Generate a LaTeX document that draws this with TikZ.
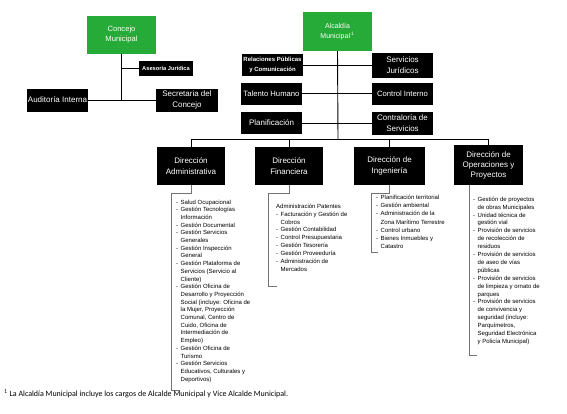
\documentclass[tikz,border=0pt]{standalone}
\usepackage{fontspec}
\setmainfont{Liberation Sans}
\newfontfamily\fnfont{Carlito}
\definecolor{grn}{RGB}{38,170,56}
\tikzset{
  blk/.style={fill=black, text=white, inner sep=0pt, align=center},
  grnbox/.style={fill=grn, text=white, inner sep=0pt, align=center},
  con/.style={line width=0.9pt},
  brk/.style={line width=0.5pt, draw=black!55},
  lst/.style={anchor=north west, inner sep=0pt},
}
\newcommand\lsfont{\fontsize{6}{7.7}\selectfont}
\begin{document}
\begin{tikzpicture}[x=1pt,y=-1pt]
\useasboundingbox[fill=white] (0,0) rectangle (567,413);
% Concejo
\node[grnbox, minimum width=69pt, minimum height=38pt, font=\fontsize{7.6}{10}\selectfont] (conc) at (121.5,35) {Concejo\\Municipal};
\node[blk, minimum width=54pt, minimum height=15pt, font=\bfseries\fontsize{5.7}{7}\selectfont] (ases) at (166,68.5) {Asesoría Jurídica};
\node[blk, minimum width=61pt, minimum height=23pt, font=\fontsize{8}{10}\selectfont] (audi) at (57.5,100) {Auditoría Interna};
\node[blk, minimum width=62pt, minimum height=23pt, font=\fontsize{8}{10.5}\selectfont] (secr) at (187,100) {Secretaria del\\Concejo};
\draw[con] (conc.south) -- (conc.south |- audi.east);
\draw[con] (conc.south |- ases.west) -- (ases.west);
\draw[con] (audi.east) -- (secr.west);
% Alcaldia
\node[grnbox, minimum width=69pt, minimum height=39pt, font=\fontsize{7}{10.3}\selectfont] (alc) at (337.5,31.5) {Alcaldía\\Municipal\,\textsuperscript{1}};
\node[blk, minimum width=61pt, minimum height=22pt, font=\bfseries\fontsize{6}{9.3}\selectfont] (rel) at (272.5,65) {Relaciones Públicas\\y Comunicación};
\node[blk, minimum width=61pt, minimum height=25pt, font=\fontsize{8}{10.7}\selectfont] (serv) at (402.5,65) {Servicios\\Jurídicos};
\node[blk, minimum width=61pt, minimum height=22pt, font=\fontsize{7.7}{10}\selectfont] (tal) at (271.5,93.5) {Talento Humano};
\node[blk, minimum width=61pt, minimum height=22pt, font=\fontsize{7.7}{10}\selectfont] (ctrl) at (402.5,93.5) {Control Interno};
\node[blk, minimum width=61pt, minimum height=22pt, font=\fontsize{8}{10}\selectfont] (plan) at (271.5,123) {Planificación};
\node[blk, minimum width=61pt, minimum height=23pt, font=\fontsize{8}{10.7}\selectfont] (contr) at (402.5,123) {Contraloría de\\Servicios};
\coordinate (bus) at (338,139);
\draw[con] (alc.south) -- (bus);
\draw[con] (rel.east) -- (serv.west);
\draw[con] (tal.east) -- (ctrl.west);
\draw[con] (plan.east) -- (contr.west);
% Direcciones
\node[blk, minimum width=68pt, minimum height=38pt, font=\fontsize{8}{11}\selectfont] (dadm) at (191,166) {Dirección\\Administrativa};
\node[blk, minimum width=68pt, minimum height=38pt, font=\fontsize{8}{11}\selectfont] (dfin) at (289,166) {Dirección\\Financiera};
\node[blk, minimum width=71pt, minimum height=38pt, font=\fontsize{8}{11}\selectfont] (ding) at (389.5,166) {Dirección de\\Ingeniería};
\node[blk, minimum width=69pt, minimum height=40pt, font=\fontsize{8}{10}\selectfont] (dops) at (488.5,165) {Dirección de\\Operaciones y\\Proyectos};
\draw[con] (dadm.north) -- (dadm.north |- bus) -- (dops.north |- bus) -- (dops.north);
\draw[con] (dfin.north) -- (dfin.north |- bus);
\draw[con] (ding.north) -- (ding.north |- bus);
% brackets
\coordinate (a1) at (171,193); \coordinate (a2) at (171,390); \coordinate (a3) at (180,390);
\draw[brk] (dadm.south) -- (dadm.south |- a1) -- (a1) -- (a2) -- (a3);
\coordinate (f1) at (268,193); \coordinate (f2) at (268,286); \coordinate (f3) at (277,286);
\draw[brk] (dfin.south) -- (dfin.south |- f1) -- (f1) -- (f2) -- (f3);
\coordinate (i1) at (371,193); \coordinate (i2) at (371,252); \coordinate (i3) at (378,252);
\draw[brk] (ding.south) -- (ding.south |- i1) -- (i1) -- (i2) -- (i3);
\coordinate (o1) at (469,355); \coordinate (o2) at (477,355);
\draw[brk] (dops.south -| o1) -- (o1) -- (o2);
% lists
\node[lst, font=\lsfont] (ladm) at (176,198.5) {\begin{tabular}{@{}l@{\hspace{2.5pt}}l@{}}
- & Salud Ocupacional\\
- & Gestión Tecnologías\\
  & Información\\
- & Gestión Documental\\
- & Gestión Servicios\\
  & Generales\\
- & Gestión Inspección\\
  & General\\
- & Gestión Plataforma de\\
  & Servicios (Servicio al\\
  & Cliente)\\
- & Gestión Oficina de\\
  & Desarrollo y Proyección\\
  & Social (incluye: Oficina de\\
  & la Mujer, Proyección\\
  & Comunal, Centro de\\
  & Cuido, Oficina de\\
  & Intermediación de\\
  & Empleo)\\
- & Gestión Oficina de\\
  & Turismo\\
- & Gestión Servicios\\
  & Educativos, Culturales y\\
  & Deportivos)
\end{tabular}};
\node[lst, font=\fontsize{6}{7.9}\selectfont] (lfin) at (276,202.5) {\begin{tabular}{@{}l@{\hspace{2.5pt}}l@{}}
\multicolumn{2}{@{}l@{}}{Administración Patentes}\\
- & Facturación y Gestión de\\
  & Cobros\\
- & Gestión Contabilidad\\
- & Control Presupuestaria\\
- & Gestión Tesorería\\
- & Gestión Proveeduría\\
- & Administración de\\
  & Mercados
\end{tabular}};
\node[lst, font=\fontsize{6}{8.2}\selectfont] (ling) at (376,193.5) {\begin{tabular}{@{}l@{\hspace{2.5pt}}l@{}}
- & Planificación territorial\\
- & Gestión ambiental\\
- & Administración de la\\
  & Zona Marítimo Terrestre\\
- & Control urbano\\
- & Bienes Inmuebles y\\
  & Catastro
\end{tabular}};
\node[lst, font=\fontsize{6}{7.9}\selectfont] (lops) at (473,195.5) {\begin{tabular}{@{}l@{\hspace{2.5pt}}l@{}}
- & Gestión de proyectos\\
  & de obras Municipales\\
- & Unidad técnica de\\
  & gestión vial\\
- & Provisión de servicios\\
  & de recolección de\\
  & residuos\\
- & Provisión de servicios\\
  & de aseo de vías\\
  & públicas\\
- & Provisión de servicios\\
  & de limpieza y ornato de\\
  & parques\\
- & Provisión de servicios\\
  & de convivencia y\\
  & seguridad (incluye:\\
  & Parquímetros,\\
  & Seguridad Electrónica\\
  & y Policía Municipal)
\end{tabular}};
% footnote
\node[anchor=west, inner sep=0pt, font=\fnfont\fontsize{8}{9}\selectfont] (fn) at (4,394) {\textsuperscript{1} La Alcaldía Municipal incluye los cargos de Alcalde Municipal y Vice Alcalde Municipal.};
\end{tikzpicture}
\end{document}
